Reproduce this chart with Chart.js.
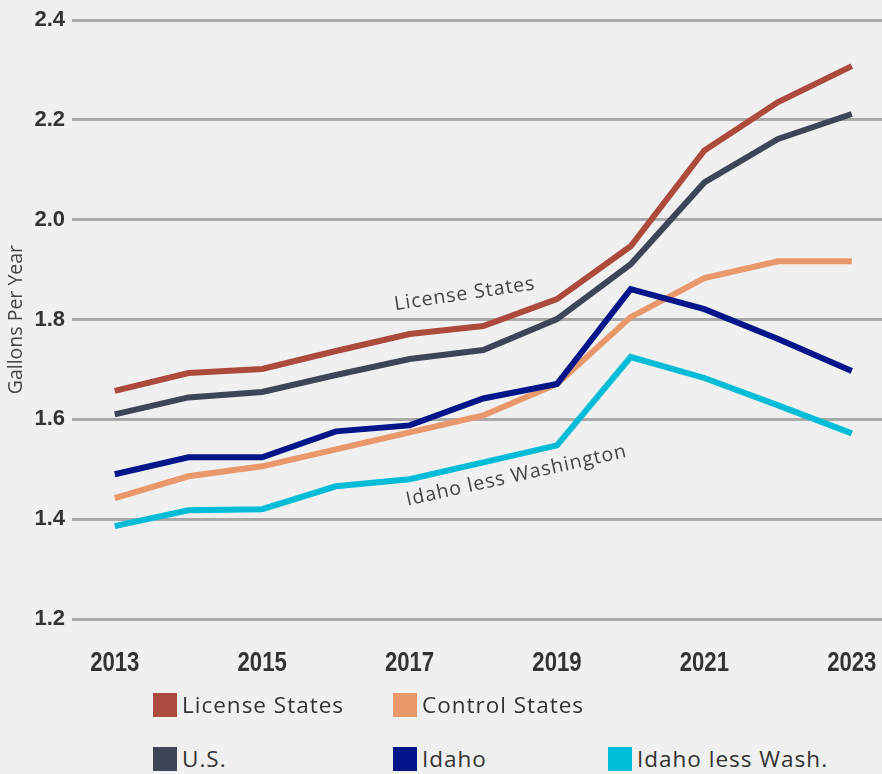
<!DOCTYPE html>
<html>
<head>
<meta charset="utf-8">
<script src="https://cdn.jsdelivr.net/npm/chart.js@4.4.1/dist/chart.umd.min.js"></script>
<style>
  body { margin: 0; background: #f0f0f0; width: 882px; height: 774px; overflow: hidden; position: relative; font-family: 'Open Sans', sans-serif; }
  #wrap { position: absolute; left: 0; top: 0; width: 882px; height: 690px; }
  .item { position: absolute; display: flex; align-items: center; font-size: 22.5px; letter-spacing: 1px; color: #333; line-height: 24px; }
  .swatch { width: 24px; height: 24px; margin-right: 5px; }
  .slot0 { left: 153px; top: 693px; }
  .slot1 { left: 393px; top: 693px; }
  .slot2 { left: 153px; top: 747px; }
  .slot3 { left: 393px; top: 747px; }
  .slot4 { left: 608px; top: 747px; }
</style>
</head>
<body>
<div id="wrap"><canvas id="chart"></canvas></div>
<div id="legend"></div>
<script>
// Gallons per year
const years = [2013, 2014, 2015, 2016, 2017, 2018, 2019, 2020, 2021, 2022, 2023];
const tickYears = [2013, 2015, 2017, 2019, 2021, 2023];
const yTicks = [1.2, 1.4, 1.6, 1.8, 2.0, 2.2, 2.4];

const licenseStates = [1.657, 1.693, 1.701, 1.737, 1.771, 1.787, 1.841, 1.947, 2.139, 2.236, 2.308];
const controlStates = [1.442, 1.486, 1.506, 1.540, 1.574, 1.608, 1.671, 1.805, 1.883, 1.917, 1.917];
const usTotal       = [1.610, 1.644, 1.655, 1.689, 1.721, 1.739, 1.801, 1.911, 2.075, 2.162, 2.212];
const idaho         = [1.490, 1.524, 1.524, 1.576, 1.588, 1.642, 1.671, 1.861, 1.821, 1.761, 1.697];
const idahoLessWash = [1.386, 1.418, 1.420, 1.466, 1.480, 1.514, 1.548, 1.725, 1.683, 1.628, 1.572];

const seriesNames = ['License States', 'Control States', 'U.S.', 'Idaho', 'Idaho less Wash.'];
const seriesValues = [licenseStates, controlStates, usTotal, idaho, idahoLessWash];
const seriesColors = ['#ab4a3d', '#e8986a', '#3d4557', '#031689', '#00bcd6'];
const seriesOrder = [2, 4, 3, 0, 1];

// in-chart labels, placed in data coordinates
const notes = [
  { text: 'License States', x: 2017.75, y: 1.851, angle: -8.5 },
  { text: 'Idaho less Washington', x: 2018.45, y: 1.487, angle: -12.5 },
];

const datasets = seriesNames.map((name, i) => ({
  label: name,
  data: years.map((yr, j) => ({ x: yr, y: seriesValues[i][j] })),
  borderColor: seriesColors[i],
  backgroundColor: seriesColors[i],
  borderWidth: 6,
  pointRadius: 0,
  tension: 0,
  borderJoinStyle: 'miter',
  order: seriesOrder[i],
}));

// draws the rotated labels that sit next to the lines
const notesPlugin = {
  id: 'notes',
  afterDatasetsDraw(chart) {
    const { ctx, scales } = chart;
    ctx.save();
    ctx.font = '19.5px "Open Sans", sans-serif';
    ctx.letterSpacing = '1px';
    ctx.fillStyle = '#444';
    ctx.textAlign = 'center';
    ctx.textBaseline = 'middle';
    notes.forEach(n => {
      ctx.save();
      ctx.translate(scales.x.getPixelForValue(n.x), scales.y.getPixelForValue(n.y));
      ctx.rotate(n.angle * Math.PI / 180);
      ctx.fillText(n.text, 0, 0);
      ctx.restore();
    });
    ctx.restore();
  }
};

// no condensed bold font is installed, so the year labels are squeezed by hand
const yearLabels = {
  id: 'yearLabels',
  afterDraw(chart) {
    const { ctx, chartArea } = chart;
    const xs = chart.scales.x;
    ctx.save();
    ctx.font = 'bold 28px "Liberation Sans", Arial, sans-serif';
    ctx.fillStyle = '#333';
    ctx.textAlign = 'center';
    ctx.textBaseline = 'middle';
    xs.ticks.forEach(t => {
      ctx.save();
      ctx.translate(xs.getPixelForValue(t.value), chartArea.bottom + 44);
      ctx.scale(0.79, 1);
      ctx.fillText(String(t.value), 0, 0);
      ctx.restore();
    });
    ctx.restore();
  }
};

const ctx = document.getElementById('chart').getContext('2d');
new Chart(ctx, {
  type: 'line',
  data: { datasets },
  options: {
    responsive: true,
    maintainAspectRatio: false,
    animation: false,
    layout: { padding: { top: 11, right: 0, bottom: 0, left: 0 } },
    plugins: {
      legend: { display: false },
      tooltip: { enabled: false },
    },
    scales: {
      x: {
        type: 'linear',
        min: 2012.42,
        max: 2023.41,
        grid: { display: false },
        border: { display: false },
        ticks: { display: false },
        afterBuildTicks: (scale) => { scale.ticks = tickYears.map(v => ({ value: v })); },
        afterFit: (scale) => {
          scale.height = 71;
          scale.paddingLeft = 0;
          scale.paddingRight = 0;
        },
      },
      y: {
        min: 1.2,
        max: 2.4,
        afterBuildTicks: (scale) => { scale.ticks = yTicks.map(v => ({ value: v })); },
        afterFit: (scale) => { scale.width = 72; },
        grid: { color: '#a9a9a9', lineWidth: 3, drawTicks: false },
        border: { display: false },
        ticks: {
          padding: 7,
          color: '#333',
          font: { family: '"Liberation Sans", Arial, sans-serif', size: 22, weight: 'bold' },
          callback: (v) => Number(v).toFixed(1),
        },
        title: {
          display: true,
          text: 'Gallons Per Year',
          color: '#444',
          padding: { top: 5, bottom: 0 },
          font: { family: '"Open Sans", sans-serif', size: 19.5 },
        },
      },
    },
  },
  plugins: [notesPlugin, yearLabels],
});

// legend below the chart, built from the same series
const legend = document.getElementById('legend');
seriesNames.forEach((name, i) => {
  const item = document.createElement('div');
  item.className = 'item slot' + i;
  item.innerHTML = `<span class="swatch" style="background:${seriesColors[i]}"></span><span>${name}</span>`;
  legend.appendChild(item);
});
</script>
</body>
</html>
